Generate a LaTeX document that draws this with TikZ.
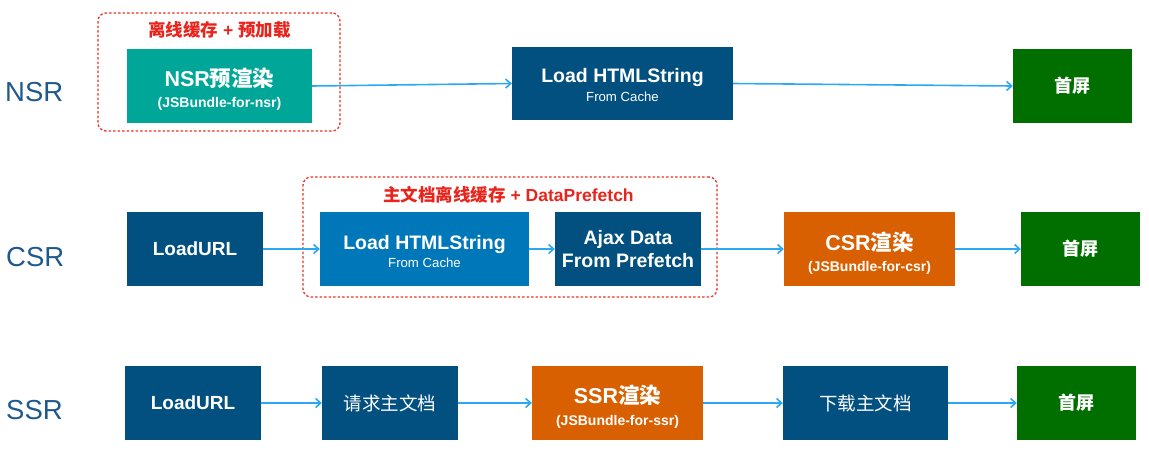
\documentclass[tikz,border=0pt]{standalone}
\usepackage{fontspec}
\setmainfont{Liberation Sans}
\newfontfamily\cjk{Noto Sans CJK SC}
\usetikzlibrary{arrows.meta}
\definecolor{dblue}{RGB}{1,80,128}
\definecolor{lblue}{RGB}{0,119,185}
\definecolor{teal1}{RGB}{0,167,152}
\definecolor{orange1}{RGB}{216,96,0}
\definecolor{green1}{RGB}{0,111,0}
\definecolor{redd}{RGB}{234,51,40}
\definecolor{redt}{RGB}{232,36,28}
\definecolor{arrowc}{RGB}{44,168,242}
\definecolor{rowc}{RGB}{30,88,140}
\begin{document}
\begin{tikzpicture}[x=1pt,y=-1pt,
  box/.style={draw=none, inner sep=0pt, minimum height=74pt},
  group/.style={draw=redd, line width=1.3pt, dash pattern=on 2.5pt off 2pt, rounded corners=8pt, inner sep=0pt},
  grouplabel/.style={text=redt, inner sep=0pt, font=\fontsize{17.5}{20}\selectfont\bfseries},
  rowlabel/.style={text=rowc, inner sep=0pt, anchor=west, font=\fontsize{27.5}{30}\selectfont},
  big/.style={text=white, inner sep=0pt, anchor=base, font=\fontsize{21.5}{24}\selectfont\bfseries},
  mid/.style={text=white, inner sep=0pt, anchor=base, font=\fontsize{19.5}{22}\selectfont\bfseries},
  sub/.style={text=white, inner sep=0pt, anchor=base, font=\fontsize{14}{16}\selectfont\bfseries},
  subr/.style={text=white, inner sep=0pt, anchor=base, font=\fontsize{13.2}{15}\selectfont},
  one/.style={text=white, inner sep=0pt, font=\fontsize{19}{22}\selectfont\bfseries},
  cjkb/.style={text=white, inner sep=0pt, font=\fontsize{18}{20}\selectfont\cjk\bfseries},
  cjkr/.style={text=white, inner sep=0pt, font=\fontsize{18.5}{20}\selectfont\cjk},
  flow/.style={draw=arrowc, line width=1.6pt, -{Straight Barb[length=5pt,width=9pt]}}
]
\useasboundingbox (0,0) rectangle (1149,451);

% row labels
\node[rowlabel] (lnsr) at (5,92) {NSR};
\node[rowlabel] (lcsr) at (6,257) {CSR};
\node[rowlabel] (lssr) at (6,410) {SSR};

% groups
\node[group, minimum width=242pt, minimum height=118pt] (nsrgrp) at (219,72) {};
\node[grouplabel] (nsrgrpl) at (219.5,30) {{\cjk 离线缓存} + {\cjk 预加载}};
\node[group, minimum width=414pt, minimum height=120pt] (csrgrp) at (510,237) {};
\node[grouplabel] (csrgrpl) at (508.5,195) {{\cjk 主文档离线缓存} + DataPrefetch};

% NSR row
\node[box, fill=teal1, minimum width=185pt] (nsrpre) at (219.5,86) {};
\node[big] (nsrpre1) at (219.5,86) {NSR{\cjk 预渲染}};
\node[sub] (nsrpre2) at (219.5,107) {(JSBundle-for-nsr)};
\node[box, fill=dblue, minimum width=221pt, minimum height=73pt] (nsrload) at (622.5,83.5) {};
\node[mid] (nsrload1) at (622.5,82) {Load HTMLString};
\node[subr] (nsrload2) at (622.5,101) {From Cache};
\node[box, fill=green1, minimum width=119pt] (nsrfirst) at (1072.5,86) {};
\node[cjkb] (nsrfirstt) at (1072.5,86) {首屏};

% CSR row
\node[box, fill=dblue, minimum width=136pt] (csrurl) at (195,249) {};
\node[one] (csrurlt) at (195,249) {LoadURL};
\node[box, fill=lblue, minimum width=209pt] (csrload) at (424.5,249) {};
\node[mid] (csrload1) at (424.5,249) {Load HTMLString};
\node[subr] (csrload2) at (424.5,267) {From Cache};
\node[box, fill=dblue, minimum width=146pt] (csrajax) at (628,249) {};
\node[mid] (csrajax1) at (628,244) {Ajax Data};
\node[mid] (csrajax2) at (628,267) {From Prefetch};
\node[box, fill=orange1, minimum width=171pt] (csrrender) at (869.5,249) {};
\node[big] (csrrender1) at (869.5,250) {CSR{\cjk 渲染}};
\node[sub] (csrrender2) at (869.5,271) {(JSBundle-for-csr)};
\node[box, fill=green1, minimum width=119pt] (csrfirst) at (1080.5,249) {};
\node[cjkb] (csrfirstt) at (1080.5,249) {首屏};

% SSR row
\node[box, fill=dblue, minimum width=136pt] (ssrurl) at (193,403) {};
\node[one] (ssrurlt) at (193,403) {LoadURL};
\node[box, fill=dblue, minimum width=136pt] (ssrreq) at (390,403) {};
\node[cjkr] (ssrreqt) at (390,403) {请求主文档};
\node[box, fill=orange1, minimum width=171pt] (ssrrender) at (617.5,403) {};
\node[big] (ssrrender1) at (617.5,403) {SSR{\cjk 渲染}};
\node[sub] (ssrrender2) at (617.5,425) {(JSBundle-for-ssr)};
\node[box, fill=dblue, minimum width=165pt] (ssrdown) at (865.5,403) {};
\node[cjkr] (ssrdownt) at (865.5,403) {下载主文档};
\node[box, fill=green1, minimum width=119pt] (ssrfirst) at (1076.5,403) {};
\node[cjkb] (ssrfirstt) at (1076.5,403) {首屏};

% connectors
\draw[flow] (nsrpre.east) -- (nsrload.west);
\draw[flow] (nsrload.east) -- (nsrfirst.west);
\draw[flow] (csrurl) -- (csrload);
\draw[flow] (csrload) -- (csrajax);
\draw[flow] (csrajax) -- (csrrender);
\draw[flow] (csrrender) -- (csrfirst);
\draw[flow] (ssrurl) -- (ssrreq);
\draw[flow] (ssrreq) -- (ssrrender);
\draw[flow] (ssrrender) -- (ssrdown);
\draw[flow] (ssrdown) -- (ssrfirst);
\end{tikzpicture}
\end{document}
